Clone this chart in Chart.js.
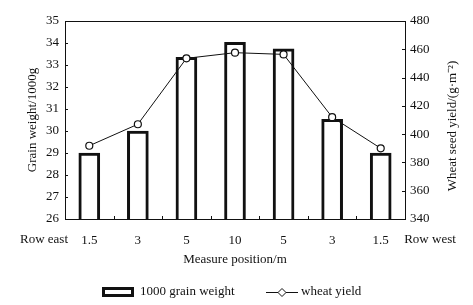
<!DOCTYPE html>
<html>
<head>
<meta charset="utf-8">
<script src="https://cdn.jsdelivr.net/npm/chart.js@4"></script>
<style>
  html, body { margin: 0; padding: 0; background: #fff; }
  #wrap { width: 473px; height: 305px; }
</style>
</head>
<body>
<div id="wrap"><canvas id="chart" width="473" height="305"></canvas></div>
<script>
// positions across the field, east to west
const positions = ["1.5", "3", "5", "10", "5", "3", "1.5"]
const grainWeight = [29.0, 30.0, 33.35, 34.03, 33.73, 30.53, 29.0]
const wheatYield = [391.8, 407, 453.6, 457.6, 456.4, 412, 390]
const leftTicks = [26, 27, 28, 29, 30, 31, 32, 33, 34, 35]
const rightTicks = [340, 360, 380, 400, 420, 440, 460, 480]

const serif = "'Liberation Serif', 'Times New Roman', serif"
const ink = "#111"

// frame, inward ticks, end labels, right title and legend
const extras = {
    id: "extras",
    afterDraw(chart) {
        const ctx = chart.ctx
        const a = chart.chartArea
        const x = chart.scales.x
        const yl = chart.scales.y
        const yr = chart.scales.y1
        ctx.save()
        ctx.strokeStyle = ink
        ctx.lineWidth = 1
        ctx.strokeRect(a.left + 0.5, a.top + 0.5, a.right - a.left, a.bottom - a.top)

        ctx.beginPath()
        for (let i = 1; i < positions.length; i++) {
            const px = Math.round((x.getPixelForValue(i - 1) + x.getPixelForValue(i)) / 2) + 0.5
            ctx.moveTo(px, a.bottom)
            ctx.lineTo(px, a.bottom - 3)
        }
        leftTicks.forEach(v => {
            const py = Math.round(yl.getPixelForValue(v)) + 0.5
            ctx.moveTo(a.left, py)
            ctx.lineTo(a.left + 3, py)
        })
        rightTicks.forEach(v => {
            const py = Math.round(yr.getPixelForValue(v)) + 0.5
            ctx.moveTo(a.right, py)
            ctx.lineTo(a.right - 3, py)
        })
        ctx.stroke()

        ctx.fillStyle = ink
        ctx.font = "13px " + serif
        ctx.textAlign = "center"
        ctx.textBaseline = "middle"
        ctx.fillText("Row east", 44, 240)
        ctx.fillText("Row west", 430, 240)

        // right axis title reads bottom to top
        ctx.save()
        ctx.translate(453, 126)
        ctx.rotate(-Math.PI / 2)
        ctx.fillText("Wheat seed yield/(g·m⁻²)", 0, 0)
        ctx.restore()

        // legend
        ctx.lineWidth = 3
        ctx.strokeStyle = ink
        ctx.fillStyle = "#fff"
        ctx.fillRect(103.5, 288.5, 29, 7)
        ctx.strokeRect(103.5, 288.5, 29, 7)
        ctx.fillStyle = ink
        ctx.textAlign = "left"
        ctx.fillText("1000 grain weight", 140, 292)

        ctx.lineWidth = 1
        ctx.beginPath()
        ctx.moveTo(266, 292.5)
        ctx.lineTo(298, 292.5)
        ctx.stroke()
        ctx.fillStyle = "#fff"
        ctx.beginPath()
        ctx.moveTo(282, 288.5)
        ctx.lineTo(286, 292.5)
        ctx.lineTo(282, 296.5)
        ctx.lineTo(278, 292.5)
        ctx.closePath()
        ctx.fill()
        ctx.stroke()
        ctx.fillStyle = ink
        ctx.fillText("wheat yield", 301, 292)
        ctx.restore()
    }
}

const data = {
    labels: positions,
    datasets: [{
        type: "line",
        label: "wheat yield",
        data: wheatYield,
        yAxisID: "y1",
        borderColor: ink,
        borderWidth: 1,
        pointStyle: "circle",
        pointRadius: 3.5,
        pointBorderWidth: 1.2,
        pointBackgroundColor: "#fff",
        pointBorderColor: ink,
        tension: 0,
        order: 0
    }, {
        type: "bar",
        label: "1000 grain weight",
        data: grainWeight,
        yAxisID: "y",
        backgroundColor: "#fff",
        borderColor: ink,
        borderWidth: 3,
        borderSkipped: false,
        barThickness: 21,
        order: 1
    }]
}

const config = {
    data,
    options: {
        responsive: false,
        animation: false,
        layout: { padding: { top: 21, left: 0, right: 0, bottom: 0 } },
        plugins: {
            legend: { display: false },
            tooltip: { enabled: false }
        },
        scales: {
            x: {
                grid: { display: false, drawTicks: false },
                border: { display: false },
                ticks: { color: ink, font: { family: serif, size: 13 }, padding: 14 },
                title: {
                    display: true, text: "Measure position/m", color: ink,
                    font: { family: serif, size: 13 }, padding: { top: 0, bottom: 38 }
                },
                afterFit(scale) { scale.height = 86 }
            },
            y: {
                position: "left",
                min: 26, max: 35,
                afterBuildTicks(scale) { scale.ticks = leftTicks.map(v => ({ value: v })) },
                grid: { display: false, drawTicks: false },
                border: { display: false },
                ticks: { color: ink, font: { family: serif, size: 13 }, padding: 6 },
                title: {
                    display: true, text: "Grain weight/1000g", color: ink,
                    font: { family: serif, size: 13 }, padding: { top: 25, bottom: 0 }
                },
                afterFit(scale) { scale.width = 65 }
            },
            y1: {
                position: "right",
                min: 340, max: 480,
                afterBuildTicks(scale) { scale.ticks = rightTicks.map(v => ({ value: v })) },
                grid: { display: false, drawTicks: false },
                border: { display: false },
                ticks: { color: ink, font: { family: serif, size: 13 }, padding: 5 },
                afterFit(scale) { scale.width = 68 }
            }
        }
    },
    plugins: [extras]
}

const myChart = new Chart(document.getElementById("chart"), config)
</script>
</body>
</html>
